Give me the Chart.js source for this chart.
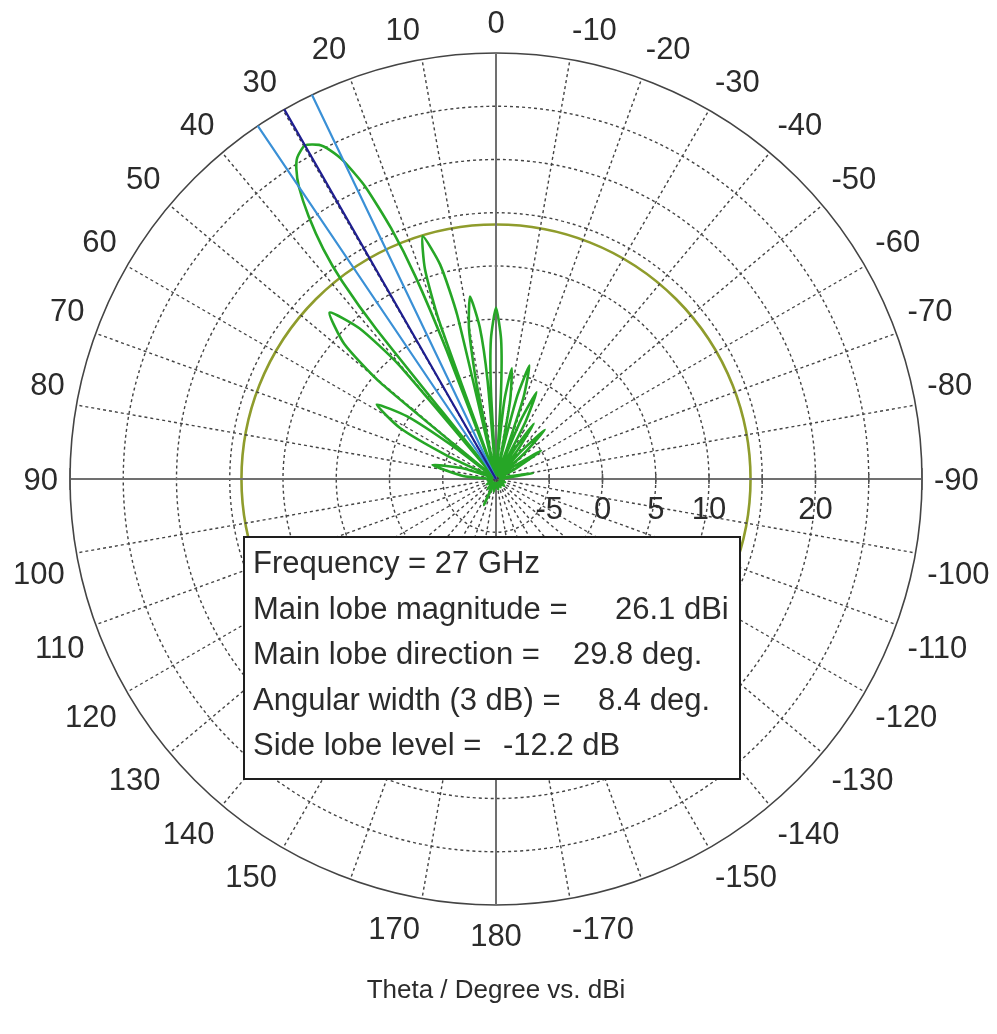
<!DOCTYPE html>
<html>
<head>
<meta charset="utf-8">
<script src="https://cdn.jsdelivr.net/npm/chart.js@4/dist/chart.umd.min.js"></script>
<style>
html,body{margin:0;padding:0;background:#ffffff;}
canvas{display:block;}
</style>
</head>
<body>
<canvas id="c" width="997" height="1034"></canvas>
<script>
// ---------------- chart values ----------------
const radialMin = -10;
const radialMax = 30;
const radialStep = 5;
const radialTickLabels = [-5, 0, 5, 10, 20];
const angleTickLabels = [0, 10, 20, 30, 40, 50, 60, 70, 80, 90, 100, 110, 120, 130, 140, 150, 170, 180,
  -170, -150, -140, -130, -120, -110, -100, -90, -80, -70, -60, -50, -40, -30, -20, -10];

// far-field pattern: theta (deg) and gain (dBi)
const patternTheta = [
  -180, -175, -168, -160, -150, -140, -130, -120, -110, -100, -95,
  -88, -81, -74, -67, -62.4, -57.8, -54.4, -51,
  -47.9, -44.8, -42.2, -39.5, -36.9, -34.3, -32.0, -29.6,
  -28.7, -27.3, -25.0, -22.9, -21.6, -20.7, -19.8, -18.6, -16.4, -14.4, -13.1, -12.3,
  -11.5, -10.2, -8.1, -6.1, -4.9, -4.1, -3.3, -2.1, 0, 2.1, 3.3, 4.1,
  4.9, 6.1, 8.1, 10.2, 11.5, 12.4, 13.3, 14.6, 16.8, 18.7, 19.8, 20.5,
  21.0, 21.7, 22.7, 24.1, 25.6, 26.8, 27.9, 29.8, 31.7, 32.8, 34.0, 35.5, 36.9, 37.9, 38.6, 39.3,
  40.4, 42.2, 45.0, 48.3, 50.2, 51.5, 52.8, 54.8, 58.0, 62.0, 64.4, 66.0,
  71.8, 77.5, 84.8, 90, 100, 110, 120, 130, 140, 147, 155, 162, 170, 177
];
const patternGain = [
  -9.2, -9.6, -9.0, -9.6, -9.1, -9.6, -9.0, -9.6, -9.1, -9.6, -9.6,
  -9.5, -6.5, -9.5, -9.6, -8.0, -5.0, -8.0, -9.6,
  -6.5, -3.5, -6.5, -9.6, -6.7, -3.7, -6.7, -9.6,
  -9.0, -4.0, -1.0, -4.0, -9.0, -9.6, -6.9, -1.9, 1.1, -1.9, -6.9, -9.6,
  -7.5, -2.5, 0.5, -2.5, -7.5, -9.6, -1.9, 3.1, 6.1, 3.1, -1.9, -9.6,
  -0.7, 4.3, 7.3, 4.3, -0.7, -9.6, 5.8, 10.8, 13.8, 10.8, 5.8, -9.6,
  3.0, 10.5, 15.5, 20.1, 23.1, 24.6, 25.5, 26.1, 25.5, 24.6, 23.1, 20.3, 17.0, 13.5, 8.0, -9.6,
  4.1, 9.1, 12.1, 9.1, 4.1, -9.6, -4.8, 0.2, 3.2, 0.2, -4.8, -9.6,
  -6.9, -3.9, -6.9, -9.6, -9.2, -9.6, -9.0, -9.6, -8.8, -9.6, -7.3, -9.6, -8.8, -9.6
];

const mainLobeDirection = 29.8;        // deg
const halfPowerEdges = [25.6, 34.0];   // deg (3 dB beam edges)
const sideLobeRing = 13.9;             // dBi (26.1 - 12.2)

const infoLabels = ['Frequency = 27 GHz', 'Main lobe magnitude =', 'Main lobe direction =', 'Angular width (3 dB) =', 'Side lobe level ='];
const infoValues = ['', '26.1 dBi', '29.8 deg.', '8.4 deg.', '-12.2 dB'];
const chartTitle = 'Theta / Degree vs. dBi';

// ---------------- build radar structures ----------------
const STEP = 0.1;                 // degrees per radar spoke
const N = Math.round(360 / STEP); // spokes, clockwise from top
const idx = t => ((Math.round(-t / STEP) % N) + N) % N; // theta (CCW positive) -> spoke index
const spokes = Array.from({length: N}, (_, i) => i);

function toSeries(thetas, values) {
  const arr = new Array(N).fill(null);
  thetas.forEach((t, k) => { arr[idx(t)] = values[k]; });
  return arr;
}
function rayTo(theta) {
  // from centre (scale minimum) out to the outer ring at angle theta
  return toSeries([theta, theta + STEP], [radialMax, radialMin]);
}

const FONT = '"Liberation Sans", Arial, Helvetica, sans-serif';
const TEXT = '#2b2b2b';

const decor = {
  id: 'decor',
  afterDraw(chart) {
    const s = chart.scales.r;
    const ctx = chart.ctx;
    const xc = s.xCenter, yc = s.yCenter, R = s.drawingArea;
    ctx.save();
    // small ticks on the horizontal axis
    ctx.strokeStyle = '#555';
    ctx.lineWidth = 1.5;
    ctx.setLineDash([]);
    for (let v = radialMin + radialStep; v < radialMax; v += radialStep) {
      const x = xc + s.getDistanceFromCenterForValue(v);
      ctx.beginPath(); ctx.moveTo(x, yc - 5); ctx.lineTo(x, yc + 5); ctx.stroke();
    }
    [-1, 1].forEach(d => {
      const x = xc + d * s.getDistanceFromCenterForValue(radialMax);
      ctx.beginPath(); ctx.moveTo(x, yc - 11); ctx.lineTo(x, yc + 11); ctx.stroke();
    });
    // radial tick labels
    ctx.font = '31px ' + FONT;
    ctx.fillStyle = TEXT;
    ctx.textAlign = 'center';
    ctx.textBaseline = 'middle';
    radialTickLabels.forEach(v => {
      ctx.fillText(String(v), xc + s.getDistanceFromCenterForValue(v), yc + 31);
    });
    // angle labels (placed like Chart.js point labels)
    const lh = 31 * 1.2;
    angleTickLabels.forEach(t => {
      const i = idx(t);
      const a = Math.round(i * STEP) % 360;
      const p = s.getPointPosition(i, R + 12);
      let y = p.y;
      if (a === 90 || a === 270) y -= lh / 2;
      else if (a > 270 || a < 90) y -= lh;
      ctx.textAlign = (a === 0 || a === 180) ? 'center' : (a < 180 ? 'left' : 'right');
      ctx.fillText(String(t), p.x, y + lh / 2 + 2);
    });
    // info box
    const bx = xc - 252, by = yc + 58, bw = 496, bh = 242;
    ctx.fillStyle = '#ffffff';
    ctx.fillRect(bx, by, bw, bh);
    ctx.strokeStyle = '#1e1e1e';
    ctx.lineWidth = 2;
    ctx.strokeRect(bx, by, bw, bh);
    ctx.fillStyle = TEXT;
    ctx.textAlign = 'left';
    ctx.textBaseline = 'alphabetic';
    const valueX = [0, 119, 77, 102, 7];
    infoLabels.forEach((lab, k) => {
      const yb = yc + 94 + k * 45.5;
      ctx.fillText(lab, xc - 243, yb);
      if (infoValues[k]) ctx.fillText(infoValues[k], xc + valueX[k], yb);
    });
    ctx.restore();
  }
};

const isMainAxis = i => i % Math.round(90 / STEP) === 0;
const isDecade = i => i % Math.round(10 / STEP) === 0;

new Chart(document.getElementById('c'), {
  type: 'radar',
  data: {
    labels: spokes,
    datasets: [
      {
        label: 'Farfield',
        data: toSeries(patternTheta, patternGain),
        borderColor: '#26a626',
        borderWidth: 2.6,
        tension: 0.2,
        spanGaps: true,
        fill: false,
        pointRadius: 0,
        order: 3
      },
      {
        label: 'Main lobe direction',
        data: rayTo(mainLobeDirection),
        borderColor: '#1f1f8f',
        borderWidth: 2.2,
        tension: 0,
        spanGaps: true,
        fill: false,
        pointRadius: 0,
        order: 1
      },
      {
        label: '3 dB edge 1',
        data: rayTo(halfPowerEdges[0]),
        borderColor: '#3a90d6',
        borderWidth: 2.2,
        tension: 0,
        spanGaps: true,
        fill: false,
        pointRadius: 0,
        order: 2
      },
      {
        label: '3 dB edge 2',
        data: rayTo(halfPowerEdges[1]),
        borderColor: '#3a90d6',
        borderWidth: 2.2,
        tension: 0,
        spanGaps: true,
        fill: false,
        pointRadius: 0,
        order: 2
      }
    ]
  },
  options: {
    responsive: false,
    animation: false,
    devicePixelRatio: 1,
    events: [],
    layout: { padding: { left: 70, right: 75, top: 53, bottom: 18 } },
    plugins: {
      legend: { display: false },
      tooltip: { enabled: false },
      title: {
        display: true,
        position: 'bottom',
        text: chartTitle,
        color: TEXT,
        font: { family: FONT, size: 26, weight: 'normal' },
        padding: { top: 69, bottom: 10 }
      }
    },
    scales: {
      r: {
        min: radialMin,
        max: radialMax,
        startAngle: 0,
        afterBuildTicks: (scale) => { scale.ticks.push({ value: sideLobeRing }); },
        ticks: { display: false, stepSize: radialStep },
        pointLabels: { display: false },
        grid: {
          circular: true,
          color: (c) => {
            const v = c.tick ? c.tick.value : 0;
            if (Math.abs(v - sideLobeRing) < 1e-6) return '#8f9c2c';
            return '#444444';
          },
          lineWidth: (c) => {
            const v = c.tick ? c.tick.value : 0;
            if (Math.abs(v - sideLobeRing) < 1e-6) return 2.6;
            if (v === radialMax) return 1.6;
            return 1.4;
          }
        },
        border: {
          display: false,
          dash: (c) => {
            const v = c.tick ? c.tick.value : 0;
            if (Math.abs(v - sideLobeRing) < 1e-6 || v === radialMax) return [];
            return [3, 3];
          }
        },
        angleLines: {
          display: true,
          color: (c) => isMainAxis(c.index) ? '#707070' : (isDecade(c.index) ? '#444444' : 'rgba(0,0,0,0)'),
          lineWidth: (c) => isMainAxis(c.index) ? 2 : (isDecade(c.index) ? 1.4 : 0),
          borderDash: (c) => isMainAxis(c.index) ? [] : [3, 3]
        }
      }
    }
  },
  plugins: [decor]
});
</script>
</body>
</html>
